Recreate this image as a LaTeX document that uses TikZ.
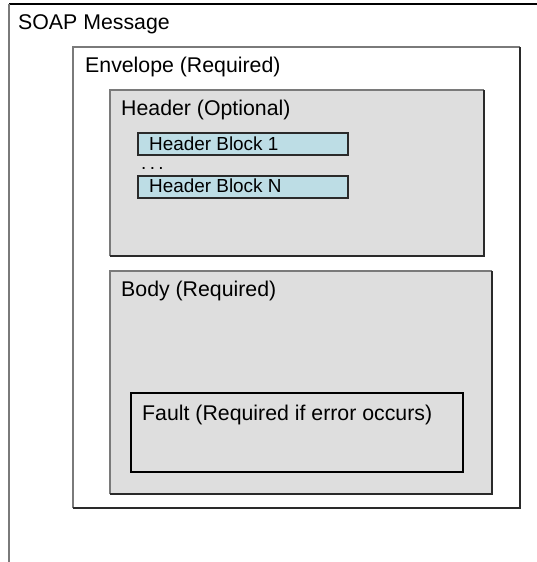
\documentclass[tikz,border=0pt]{standalone}
\usepackage{fontspec}
\setmainfont{Liberation Sans}
\definecolor{boxgray}{HTML}{DEDEDE}
\definecolor{blockblue}{HTML}{BDDDE5}
\definecolor{edgegray}{HTML}{7A7A7A}
\definecolor{edgedark}{HTML}{2A2A2A}
\tikzset{
  lbl/.style={anchor=base west, inner sep=0pt, font=\fontsize{21.3}{25}\selectfont},
  blbl/.style={anchor=base west, inner sep=0pt, font=\fontsize{18.9}{22}\selectfont},
  lightedge/.style={draw=edgegray, line width=1.3pt},
  darkedge/.style={draw=edgedark, line width=1.3pt},
}
\newcommand{\bevelbox}[5]{%
  % #1 fill, #2 x1, #3 y1, #4 x2, #5 y2
  \fill[#1] (#2,#3) rectangle (#4,#5);
  \draw[lightedge] (#2,#5) -- (#2,#3) -- (#4,#3);
  \draw[darkedge] (#4,#3) -- (#4,#5) -- (#2,#5);
}
\begin{document}
\begin{tikzpicture}[x=1pt,y=-1pt]
\useasboundingbox (0,0) rectangle (537,562);
% SOAP message (outer, cut off at right and bottom)
\draw[draw=black, line width=1.3pt] (9,4) -- (540,4);
\draw[draw=edgegray, line width=1.5pt] (9,4) -- (9,565);
\node[lbl] (soap) at (18,29) {SOAP Message};
% Envelope
\bevelbox{white}{73}{47}{520}{508}
\node[lbl] (env) at (85,72) {Envelope (Required)};
% Header
\bevelbox{boxgray}{110}{90}{484}{256}
\node[lbl] (hdr) at (121,115) {Header (Optional)};
% Header blocks
\fill[blockblue] (138,133) rectangle (348,155);
\draw[draw=edgedark, line width=1.1pt] (138,133) rectangle (348,155);
\node[blbl] (hb1) at (149,150) {Header Block 1};
\node[blbl] (dots) at (141,169) {.\hspace{0.18em}.\hspace{0.18em}.};
\fill[blockblue] (138,176) rectangle (348,198);
\draw[draw=edgedark, line width=1.1pt] (138,176) rectangle (348,198);
\node[blbl] (hbn) at (149,192) {Header Block N};
% Body
\bevelbox{boxgray}{110}{271}{492}{494}
\node[lbl] (body) at (121,296) {Body (Required)};
% Fault
\draw[draw=black, line width=1.1pt] (131,393) rectangle (463,472);
\node[lbl] (fault) at (142,420) {Fault (Required if error occurs)};
\end{tikzpicture}
\end{document}
